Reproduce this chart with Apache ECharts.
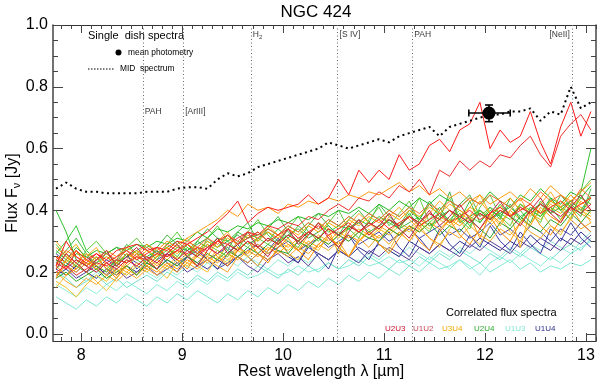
<!DOCTYPE html>
<html><head><meta charset="utf-8">
<script src="https://cdn.jsdelivr.net/npm/echarts@6/dist/echarts.min.js"></script>
<style>html,body{margin:0;padding:0;background:#fff}#c{width:600px;height:384px}</style>
</head><body><div id="c"></div>
<script>
// ---------------- data ----------------
const wavelengths = [7.75,7.85,7.95,8.05,8.15,8.25,8.35,8.45,8.55,8.65,
  8.75,8.85,8.95,9.05,9.15,9.25,9.35,9.45,9.55,9.65,
  9.75,9.85,9.95,10.05,10.15,10.25,10.35,10.45,10.55,10.65,
  10.75,10.85,10.95,11.05,11.15,11.25,11.35,11.45,11.55,11.65,
  11.75,11.85,11.95,12.05,12.15,12.25,12.35,12.45,12.55,12.65,
  12.75,12.85,12.95,13.05];

const midSpectrum = [0.47,0.49,0.47,0.46,0.46,0.455,0.455,0.455,0.455,0.46,
  0.46,0.46,0.47,0.475,0.475,0.47,0.50,0.52,0.51,0.52,
  0.54,0.55,0.56,0.57,0.58,0.59,0.60,0.62,0.61,0.60,
  0.61,0.62,0.63,0.62,0.64,0.65,0.66,0.67,0.64,0.67,
  0.68,0.69,0.70,0.71,0.71,0.72,0.72,0.73,0.69,0.72,
  0.71,0.80,0.73,0.75];

const redA = [0.22,0.30,0.25,0.23,0.26,0.24,0.27,0.28,0.29,0.27,
  0.28,0.27,0.30,0.29,0.31,0.33,0.36,0.39,0.43,0.36,
  0.39,0.41,0.40,0.41,0.42,0.45,0.42,0.44,0.50,0.45,
  0.53,0.49,0.53,0.50,0.58,0.53,0.55,0.61,0.63,0.59,
  0.66,0.68,0.75,0.60,0.66,0.62,0.64,0.72,0.62,0.55,
  0.67,0.75,0.64,0.72];
const redB = [0.20,0.22,0.19,0.21,0.23,0.22,0.24,0.23,0.25,0.24,
  0.26,0.25,0.27,0.26,0.28,0.27,0.30,0.29,0.31,0.33,
  0.32,0.35,0.34,0.36,0.35,0.38,0.37,0.40,0.42,0.40,
  0.44,0.43,0.46,0.44,0.48,0.46,0.50,0.45,0.53,0.51,
  0.56,0.53,0.56,0.54,0.58,0.57,0.61,0.64,0.58,0.54,
  0.64,0.68,0.71,0.66];
const redC = [0.25,0.21,0.27,0.24,0.26,0.23,0.25,0.27,0.24,0.26,
  0.28,0.25,0.27,0.29,0.26,0.28,0.30,0.32,0.29,0.31,
  0.33,0.30,0.32,0.34,0.31,0.33,0.35,0.32,0.34,0.36,
  0.33,0.35,0.37,0.34,0.36,0.38,0.35,0.37,0.39,0.36,
  0.38,0.40,0.37,0.39,0.41,0.38,0.40,0.42,0.39,0.41,
  0.43,0.40,0.42,0.44];
const crimson1 = [0.23,0.21,0.24,0.22,0.20,0.23,0.21,0.24,0.22,0.25,
  0.23,0.26,0.24,0.27,0.25,0.28,0.26,0.29,0.27,0.30,
  0.28,0.31,0.29,0.32,0.30,0.33,0.31,0.34,0.32,0.35,
  0.33,0.36,0.34,0.37,0.35,0.38,0.36,0.39,0.37,0.40,
  0.38,0.36,0.39,0.37,0.40,0.38,0.41,0.39,0.42,0.40,
  0.38,0.41,0.39,0.42];
const crimson2 = [0.21,0.26,0.23,0.20,0.24,0.27,0.22,0.25,0.28,0.24,
  0.21,0.26,0.29,0.25,0.22,0.27,0.31,0.26,0.29,0.33,
  0.28,0.25,0.30,0.34,0.29,0.32,0.36,0.31,0.28,0.33,
  0.37,0.32,0.35,0.39,0.34,0.31,0.36,0.40,0.35,0.38,
  0.42,0.37,0.34,0.39,0.43,0.38,0.35,0.40,0.44,0.39,
  0.36,0.41,0.45,0.40];
const green1 = [0.40,0.33,0.24,0.22,0.25,0.21,0.24,0.23,0.26,0.25,
  0.27,0.25,0.28,0.27,0.30,0.28,0.31,0.30,0.33,0.31,
  0.32,0.34,0.32,0.35,0.33,0.36,0.34,0.37,0.35,0.38,
  0.36,0.39,0.37,0.40,0.38,0.41,0.37,0.42,0.38,0.40,
  0.37,0.43,0.36,0.40,0.38,0.42,0.37,0.41,0.39,0.44,
  0.40,0.43,0.46,0.60];
const green2 = [0.26,0.30,0.35,0.27,0.24,0.26,0.23,0.25,0.27,0.24,
  0.26,0.28,0.25,0.29,0.27,0.30,0.28,0.32,0.29,0.31,
  0.33,0.30,0.34,0.31,0.35,0.32,0.36,0.33,0.35,0.34,
  0.37,0.35,0.38,0.36,0.34,0.39,0.35,0.37,0.41,0.36,
  0.39,0.35,0.40,0.37,0.42,0.38,0.36,0.40,0.38,0.41,
  0.37,0.42,0.39,0.44];
const green3 = [0.18,0.20,0.17,0.19,0.21,0.18,0.20,0.22,0.19,0.23,
  0.21,0.24,0.22,0.25,0.23,0.26,0.24,0.27,0.25,0.28,
  0.26,0.29,0.27,0.26,0.30,0.28,0.31,0.29,0.32,0.30,
  0.33,0.31,0.30,0.34,0.32,0.35,0.33,0.36,0.32,0.35,
  0.33,0.37,0.34,0.31,0.36,0.34,0.38,0.35,0.33,0.37,
  0.35,0.39,0.36,0.40];
const green4 = [0.24,0.22,0.26,0.25,0.27,0.26,0.28,0.27,0.29,0.28,
  0.30,0.29,0.31,0.30,0.33,0.31,0.34,0.33,0.35,0.34,
  0.36,0.35,0.37,0.36,0.38,0.37,0.39,0.38,0.40,0.39,
  0.41,0.39,0.42,0.40,0.43,0.41,0.44,0.42,0.45,0.43,
  0.41,0.44,0.42,0.46,0.43,0.41,0.45,0.43,0.47,0.44,
  0.42,0.46,0.44,0.48];
const green5 = [0.21,0.24,0.22,0.20,0.23,0.25,0.22,0.26,0.24,0.22,
  0.25,0.27,0.24,0.28,0.26,0.29,0.27,0.25,0.30,0.28,
  0.31,0.29,0.32,0.30,0.28,0.33,0.31,0.34,0.32,0.35,
  0.33,0.36,0.34,0.37,0.35,0.38,0.44,0.36,0.39,0.37,
  0.40,0.38,0.36,0.41,0.39,0.37,0.42,0.40,0.38,0.43,
  0.41,0.39,0.44,0.42];
const green6 = [0.27,0.24,0.28,0.25,0.23,0.26,0.28,0.25,0.27,0.29,
  0.26,0.28,0.30,0.27,0.29,0.31,0.28,0.30,0.32,0.29,
  0.31,0.33,0.30,0.32,0.34,0.31,0.33,0.35,0.32,0.34,
  0.36,0.33,0.35,0.37,0.34,0.36,0.38,0.35,0.37,0.46,
  0.36,0.38,0.40,0.37,0.39,0.41,0.38,0.40,0.42,0.39,
  0.41,0.43,0.40,0.45];
const green7 = [0.23,0.27,0.31,0.26,0.22,0.20,0.24,0.29,0.26,0.23,
  0.28,0.32,0.29,0.25,0.30,0.34,0.31,0.27,0.33,0.36,
  0.30,0.34,0.38,0.33,0.30,0.35,0.39,0.35,0.32,0.37,
  0.40,0.36,0.42,0.38,0.35,0.40,0.37,0.43,0.39,0.36,
  0.42,0.45,0.38,0.41,0.37,0.44,0.40,0.36,0.43,0.39,
  0.45,0.41,0.38,0.47];
const green8 = [0.29,0.25,0.22,0.27,0.30,0.26,0.23,0.28,0.31,0.27,
  0.24,0.29,0.33,0.28,0.25,0.31,0.35,0.30,0.27,0.33,
  0.37,0.32,0.29,0.34,0.38,0.33,0.30,0.36,0.40,0.34,
  0.31,0.37,0.41,0.35,0.39,0.43,0.36,0.33,0.40,0.44,
  0.37,0.34,0.41,0.45,0.38,0.35,0.42,0.39,0.36,0.44,
  0.40,0.37,0.46,0.50];
const orange1 = [0.25,0.23,0.27,0.24,0.22,0.25,0.23,0.26,0.24,0.27,
  0.25,0.28,0.26,0.29,0.27,0.30,0.28,0.31,0.29,0.32,
  0.30,0.33,0.31,0.34,0.32,0.35,0.33,0.36,0.34,0.37,
  0.35,0.38,0.36,0.39,0.37,0.40,0.38,0.41,0.39,0.42,
  0.40,0.38,0.43,0.39,0.41,0.44,0.40,0.42,0.39,0.43,
  0.41,0.45,0.42,0.44];
const orange2 = [0.28,0.25,0.23,0.26,0.24,0.27,0.25,0.28,0.26,0.29,
  0.27,0.30,0.28,0.31,0.33,0.35,0.37,0.40,0.38,0.42,
  0.40,0.41,0.39,0.42,0.41,0.43,0.42,0.44,0.43,0.45,
  0.44,0.46,0.45,0.47,0.49,0.46,0.48,0.45,0.47,0.44,
  0.46,0.43,0.45,0.42,0.44,0.46,0.43,0.47,0.44,0.48,
  0.45,0.43,0.46,0.49];
const orange3 = [0.20,0.17,0.15,0.18,0.16,0.19,0.17,0.20,0.18,0.21,
  0.19,0.22,0.20,0.23,0.21,0.24,0.22,0.20,0.25,0.23,
  0.26,0.24,0.27,0.25,0.28,0.26,0.29,0.27,0.30,0.25,
  0.31,0.28,0.32,0.29,0.33,0.30,0.34,0.31,0.29,0.33,
  0.31,0.35,0.32,0.30,0.34,0.32,0.36,0.33,0.31,0.35,
  0.33,0.37,0.34,0.36];
const orange4 = [0.19,0.22,0.20,0.23,0.21,0.19,0.22,0.20,0.23,0.21,
  0.24,0.22,0.25,0.23,0.26,0.24,0.27,0.25,0.28,0.26,
  0.29,0.27,0.30,0.28,0.31,0.29,0.32,0.30,0.33,0.31,
  0.34,0.32,0.35,0.33,0.36,0.34,0.37,0.35,0.38,0.36,
  0.39,0.37,0.40,0.38,0.41,0.39,0.28,0.40,0.38,0.42,
  0.40,0.43,0.41,0.39];
const orange5 = [0.22,0.19,0.21,0.24,0.22,0.20,0.23,0.21,0.19,0.22,
  0.20,0.23,0.21,0.24,0.22,0.25,0.23,0.26,0.24,0.27,
  0.25,0.28,0.26,0.29,0.27,0.30,0.28,0.31,0.29,0.32,
  0.30,0.33,0.31,0.34,0.32,0.35,0.33,0.36,0.34,0.37,
  0.35,0.38,0.31,0.39,0.36,0.40,0.37,0.35,0.41,0.38,
  0.36,0.42,0.39,0.37];
const orange6 = [0.30,0.26,0.21,0.25,0.28,0.22,0.19,0.24,0.27,0.25,
  0.22,0.26,0.29,0.31,0.27,0.25,0.30,0.33,0.28,0.26,
  0.31,0.35,0.32,0.29,0.27,0.32,0.36,0.34,0.31,0.35,
  0.39,0.36,0.33,0.38,0.41,0.37,0.34,0.39,0.43,0.40,
  0.36,0.41,0.45,0.39,0.35,0.40,0.44,0.38,0.42,0.46,
  0.41,0.37,0.43,0.40];
const orange7 = [0.18,0.24,0.27,0.22,0.25,0.21,0.18,0.23,0.26,0.22,
  0.25,0.28,0.24,0.21,0.26,0.29,0.25,0.22,0.27,0.30,
  0.26,0.23,0.28,0.31,0.27,0.24,0.29,0.32,0.28,0.25,
  0.30,0.33,0.29,0.26,0.31,0.35,0.30,0.27,0.33,0.37,
  0.32,0.29,0.34,0.38,0.33,0.30,0.36,0.40,0.35,0.32,
  0.37,0.41,0.36,0.33];
const gold1 = [0.17,0.15,0.12,0.16,0.19,0.17,0.21,0.19,0.22,0.20,
  0.23,0.21,0.24,0.22,0.25,0.23,0.26,0.24,0.27,0.25,
  0.28,0.26,0.29,0.27,0.30,0.28,0.31,0.29,0.32,0.30,
  0.33,0.31,0.34,0.32,0.35,0.33,0.36,0.34,0.37,0.35,
  0.38,0.36,0.39,0.37,0.40,0.38,0.41,0.39,0.42,0.40,
  0.43,0.41,0.44,0.42];
const gold2 = [0.22,0.26,0.29,0.24,0.21,0.23,0.20,0.22,0.25,0.23,
  0.26,0.24,0.27,0.25,0.28,0.26,0.24,0.29,0.27,0.30,
  0.28,0.31,0.29,0.32,0.30,0.33,0.31,0.34,0.26,0.35,
  0.33,0.36,0.34,0.37,0.35,0.38,0.36,0.39,0.37,0.40,
  0.38,0.41,0.39,0.36,0.40,0.38,0.42,0.39,0.37,0.41,
  0.39,0.43,0.40,0.38];
const gold3 = [0.15,0.19,0.23,0.20,0.17,0.14,0.18,0.22,0.19,0.24,
  0.21,0.18,0.23,0.26,0.22,0.20,0.25,0.23,0.28,0.25,
  0.22,0.27,0.30,0.26,0.24,0.29,0.27,0.32,0.28,0.25,
  0.30,0.34,0.29,0.27,0.33,0.30,0.35,0.31,0.28,0.34,
  0.37,0.32,0.29,0.35,0.38,0.33,0.30,0.36,0.40,0.35,
  0.32,0.38,0.41,0.36];
const orangeRed = [0.24,0.27,0.25,0.22,0.24,0.26,0.24,0.27,0.25,0.28,
  0.26,0.29,0.27,0.30,0.28,0.31,0.29,0.32,0.30,0.33,
  0.31,0.34,0.32,0.35,0.33,0.36,0.34,0.37,0.35,0.38,
  0.36,0.39,0.37,0.40,0.38,0.41,0.39,0.42,0.40,0.43,
  0.41,0.44,0.42,0.45,0.43,0.41,0.44,0.42,0.46,0.43,
  0.45,0.42,0.47,0.44];
const navy1 = [0.21,0.19,0.22,0.20,0.18,0.21,0.19,0.22,0.20,0.23,
  0.21,0.24,0.22,0.25,0.23,0.21,0.24,0.22,0.25,0.23,
  0.26,0.24,0.27,0.25,0.23,0.28,0.26,0.24,0.27,0.25,
  0.28,0.26,0.29,0.27,0.25,0.30,0.28,0.26,0.29,0.27,
  0.30,0.28,0.31,0.29,0.27,0.30,0.28,0.32,0.29,0.27,
  0.31,0.29,0.33,0.30];
const navy2 = [0.24,0.22,0.20,0.23,0.21,0.24,0.22,0.25,0.23,0.21,
  0.24,0.26,0.23,0.25,0.27,0.24,0.26,0.28,0.25,0.27,
  0.29,0.26,0.28,0.30,0.27,0.29,0.31,0.28,0.30,0.32,
  0.29,0.31,0.33,0.30,0.32,0.34,0.31,0.33,0.35,0.32,
  0.34,0.31,0.33,0.36,0.32,0.34,0.31,0.35,0.33,0.30,
  0.34,0.32,0.36,0.33];
const navy3 = [0.19,0.21,0.18,0.20,0.22,0.19,0.21,0.18,0.20,0.22,
  0.19,0.21,0.23,0.20,0.22,0.24,0.21,0.23,0.25,0.22,
  0.20,0.24,0.26,0.23,0.25,0.22,0.26,0.24,0.27,0.25,
  0.23,0.27,0.25,0.28,0.26,0.24,0.28,0.26,0.29,0.27,
  0.25,0.29,0.27,0.30,0.28,0.26,0.30,0.28,0.31,0.29,
  0.27,0.31,0.29,0.32];
const navy4 = [0.26,0.23,0.21,0.25,0.22,0.19,0.23,0.26,0.21,0.24,
  0.27,0.23,0.20,0.25,0.28,0.24,0.21,0.26,0.29,0.25,
  0.22,0.27,0.31,0.26,0.23,0.29,0.25,0.21,0.28,0.32,
  0.27,0.24,0.30,0.33,0.28,0.25,0.31,0.27,0.34,0.29,
  0.26,0.32,0.28,0.35,0.30,0.27,0.33,0.29,0.26,0.34,
  0.30,0.36,0.31,0.28];
const aqua1 = [0.12,0.10,0.08,0.11,0.09,0.12,0.10,0.13,0.11,0.09,
  0.12,0.10,0.13,0.11,0.14,0.12,0.10,0.13,0.11,0.14,
  0.12,0.15,0.13,0.16,0.14,0.17,0.15,0.18,0.16,0.19,
  0.17,0.20,0.18,0.21,0.19,0.22,0.20,0.23,0.21,0.22,
  0.24,0.21,0.23,0.20,0.22,0.24,0.21,0.23,0.20,0.22,
  0.21,0.23,0.22,0.24];
const aqua2 = [0.16,0.14,0.12,0.15,0.13,0.16,0.14,0.17,0.15,0.13,
  0.16,0.14,0.17,0.15,0.18,0.16,0.19,0.17,0.20,0.18,
  0.19,0.21,0.19,0.20,0.22,0.20,0.21,0.23,0.21,0.22,
  0.24,0.22,0.23,0.25,0.23,0.24,0.22,0.25,0.23,0.21,
  0.24,0.22,0.19,0.23,0.25,0.23,0.26,0.24,0.22,0.25,
  0.23,0.26,0.28,0.30];
const aqua3 = [0.20,0.18,0.15,0.17,0.19,0.16,0.18,0.15,0.17,0.19,
  0.17,0.20,0.18,0.16,0.19,0.17,0.20,0.18,0.21,0.19,
  0.22,0.20,0.18,0.21,0.19,0.22,0.20,0.23,0.21,0.24,
  0.22,0.25,0.23,0.21,0.24,0.22,0.25,0.23,0.26,0.24,
  0.27,0.25,0.23,0.26,0.24,0.27,0.25,0.28,0.26,0.24,
  0.27,0.29,0.27,0.31];
const aqua4 = [0.18,0.21,0.19,0.17,0.20,0.18,0.21,0.19,0.22,0.20,
  0.18,0.21,0.19,0.22,0.20,0.23,0.21,0.24,0.22,0.25,
  0.23,0.21,0.24,0.22,0.25,0.23,0.26,0.24,0.27,0.25,
  0.23,0.26,0.24,0.27,0.25,0.28,0.26,0.24,0.27,0.25,
  0.28,0.26,0.29,0.27,0.25,0.28,0.26,0.29,0.27,0.30,
  0.28,0.26,0.30,0.33];

// photometry point: [x, y, xLow, xHigh, yLow, yHigh]
const photometry = [[12.04, 0.715, 11.84, 12.25, 0.687, 0.741]];

// spectral feature markers
const featureX = [8.61, 9.01, 9.68, 10.54, 11.28, 12.86];
const featureY = [0.72, 0.72, 0.968, 0.968, 0.968, 0.968];
const featureLabels = ['PAH', '[ArIII]', 'H2', '[S IV]', 'PAH', '[NeII]'];

// tick labels
const xTickValues = [8, 9, 10, 11, 12, 13];
const yTickValues = [0, 0.2, 0.4, 0.6, 0.8, 1.0];

// baseline legend
const baselineNames = ['U2U3', 'U1U2', 'U3U4', 'U2U4', 'U1U3', 'U1U4'];
const baselineColors = ['#c8102e', '#cc4455', '#f0a800', '#2eaa2e', '#7fe6d0', '#2c2c88'];

// ---------------- chart ----------------
const spectra = [
  [aqua1, '#7fe8d4'], [aqua2, '#8aeedc'], [aqua3, '#72e0cc'], [aqua4, '#90ecd8'],
  [navy1, '#2c2c8c'], [navy2, '#4646aa'], [navy3, '#5a3d9a'], [navy4, '#3a3aa0'],
  [gold1, '#f0c020'], [gold2, '#e8b000'], [gold3, '#f8c030'], [orange3, '#f5a623'], [orange4, '#ffb020'], [orange5, '#ff9900'],
  [green3, '#2aa52a'], [green5, '#66d040'], [green2, '#33cc33'], [green6, '#3cb043'], [green7, '#44bb44'], [green8, '#5ccc3c'],
  [green4, '#22bb22'], [green1, '#30c030'],
  [orange1, '#ffa500'], [orange6, '#ffaa22'], [orange7, '#ff8c00'], [orange2, '#ff9a10'], [orangeRed, '#ff6a30'],
  [crimson1, '#d0103a'], [crimson2, '#c02040'],
  [redC, '#ff2a2a'], [redB, '#f03030'], [redA, '#ff1a1a']
];

const FONT = '"Liberation Sans", Arial, Helvetica, sans-serif';
const XMIN = 7.72, XMAX = 13.1, YMIN = -0.023, YMAX = 1.0;
const xMinor = []; for (let v = 78; v <= 131; v++) if (v % 10) xMinor.push(v / 10);
const yMinor = []; for (let v = 1; v < 20; v++) if (v % 4) yMinor.push(Math.round(v * 5) / 100);

function xAx(pos, vals, len, label, line) {
  return {
    type: 'value', position: pos, min: XMIN, max: XMAX,
    axisLine: {show: line, onZero: false, lineStyle: {color: '#333', width: 1}},
    axisTick: {show: true, inside: true, length: len, customValues: vals, lineStyle: {color: '#444', width: 1}},
    axisLabel: {show: label, customValues: vals, color: '#000', fontSize: 16, fontFamily: FONT, margin: 7},
    splitLine: {show: false}
  };
}
function yAx(pos, vals, len, label, line) {
  return {
    type: 'value', position: pos, min: YMIN, max: YMAX,
    axisLine: {show: line, onZero: false, lineStyle: {color: '#444', width: 1.5}},
    axisTick: {show: true, inside: true, length: len, customValues: vals, lineStyle: {color: '#444', width: 1}},
    axisLabel: {show: label, customValues: vals, color: '#000', fontSize: 16, fontFamily: FONT, margin: 5,
      formatter: v => v.toFixed(1)},
    splitLine: {show: false}
  };
}

const series = [];
spectra.forEach(([vals, col]) => {
  series.push({type: 'line', silent: true, symbol: 'none', z: 2,
    data: wavelengths.map((w, i) => [w, vals[i]]),
    lineStyle: {color: col, width: 1}});
});
series.push({type: 'line', silent: true, symbol: 'none', z: 4,
  data: wavelengths.map((w, i) => [w, midSpectrum[i]]),
  lineStyle: {color: '#000', width: 2, type: [2, 3.5]},
  markLine: {silent: true, symbol: ['none', 'none'], label: {show: false}, animation: false,
    lineStyle: {color: '#666', width: 1, type: [1, 2.5]},
    data: featureX.map(x => ({xAxis: x}))}
});
series.push({type: 'scatter', silent: true, symbolSize: 0, z: 6,
  data: featureX.map((x, i) => ({value: [x, featureY[i]],
    label: {position: i === 5 ? 'left' : 'right'}})),
  label: {show: true, distance: 2, fontSize: 8.5, fontFamily: FONT, color: '#000',
    formatter: p => featureLabels[p.dataIndex] === 'H2' ? '{n|H}{s|2}' : featureLabels[p.dataIndex],
    rich: {n: {fontSize: 8.5, fontFamily: FONT, color: '#000'},
           s: {fontSize: 6, fontFamily: FONT, color: '#000', padding: [5, 0, 0, 0]}}}
});
series.push({type: 'custom', silent: true, z: 7,
  data: photometry,
  renderItem: (params, api) => {
    const c = api.coord([api.value(0), api.value(1)]);
    const l = api.coord([api.value(2), api.value(1)]);
    const r = api.coord([api.value(3), api.value(1)]);
    const b = api.coord([api.value(0), api.value(4)]);
    const t = api.coord([api.value(0), api.value(5)]);
    const st = {stroke: '#000', lineWidth: 1.6};
    return {type: 'group', children: [
      {type: 'line', shape: {x1: l[0], y1: l[1], x2: r[0], y2: r[1]}, style: st},
      {type: 'line', shape: {x1: l[0], y1: l[1] - 3.5, x2: l[0], y2: l[1] + 3.5}, style: st},
      {type: 'line', shape: {x1: r[0], y1: r[1] - 3.5, x2: r[0], y2: r[1] + 3.5}, style: st},
      {type: 'line', shape: {x1: b[0], y1: b[1], x2: t[0], y2: t[1]}, style: st},
      {type: 'line', shape: {x1: b[0] - 4, y1: b[1], x2: b[0] + 4, y2: b[1]}, style: st},
      {type: 'line', shape: {x1: t[0] - 4, y1: t[1], x2: t[0] + 4, y2: t[1]}, style: st},
      {type: 'circle', shape: {cx: c[0], cy: c[1], r: 6.5}, style: {fill: '#000'}}
    ]};
  }
});

const graphics = [
  {type: 'text', x: 316, y: 12, style: {text: 'NGC 424', font: '17px ' + FONT, fill: '#000', align: 'center', verticalAlign: 'middle'}},
  {type: 'text', x: 321, y: 372, style: {text: 'Rest wavelength λ [µm]', font: '16px ' + FONT, fill: '#000', align: 'center', verticalAlign: 'middle'}},
  {type: 'text', x: 13, y: 193, rotation: Math.PI / 2,
    style: {text: '{n|Flux F}{s|ν}{n| [Jy]}', align: 'center', verticalAlign: 'middle', fill: '#000',
      rich: {n: {fontSize: 16, fontFamily: FONT, fill: '#000'},
             s: {fontSize: 11, fontFamily: FONT, fill: '#000', padding: [8, 0, 0, 0]}}}},
  {type: 'text', x: 88, y: 36, style: {text: 'Single  dish spectra', font: '11px ' + FONT, fill: '#000', verticalAlign: 'middle'}},
  {type: 'circle', shape: {cx: 118.5, cy: 52.5, r: 3}, style: {fill: '#000'}},
  {type: 'text', x: 128, y: 53, style: {text: 'mean photometry', font: '8.4px ' + FONT, fill: '#000', verticalAlign: 'middle'}},
  {type: 'line', shape: {x1: 88, y1: 69, x2: 114, y2: 69}, style: {stroke: '#000', lineWidth: 1.2, lineDash: [1.5, 1.5]}},
  {type: 'text', x: 120, y: 69, style: {text: 'MID  spectrum', font: '8.4px ' + FONT, fill: '#000', verticalAlign: 'middle'}},
  {type: 'text', x: 446, y: 313, style: {text: 'Correlated flux spectra', font: '11px ' + FONT, fill: '#000', verticalAlign: 'middle'}}
];
const blX = [385, 413, 442, 474, 505, 535];
baselineNames.forEach((n, i) => graphics.push({type: 'text', x: blX[i], y: 329,
  style: {text: n, font: '8px ' + FONT, fill: baselineColors[i], verticalAlign: 'middle'}}));

const chart = echarts.init(document.getElementById('c'));
chart.setOption({
  animation: false,
  backgroundColor: '#fff',
  grid: {left: 53, right: 4, top: 25, bottom: 43, containLabel: false},
  xAxis: [
    xAx('bottom', xTickValues, 8, true, true),
    xAx('bottom', xMinor, 4, false, false),
    xAx('top', xTickValues, 8, false, true),
    xAx('top', xMinor, 4, false, false)
  ],
  yAxis: [
    yAx('left', yTickValues, 10, true, true),
    yAx('left', yMinor, 5, false, false),
    yAx('right', yTickValues, 10, false, true),
    yAx('right', yMinor, 5, false, false)
  ],
  series: series,
  graphic: graphics
});
</script>
</body></html>
